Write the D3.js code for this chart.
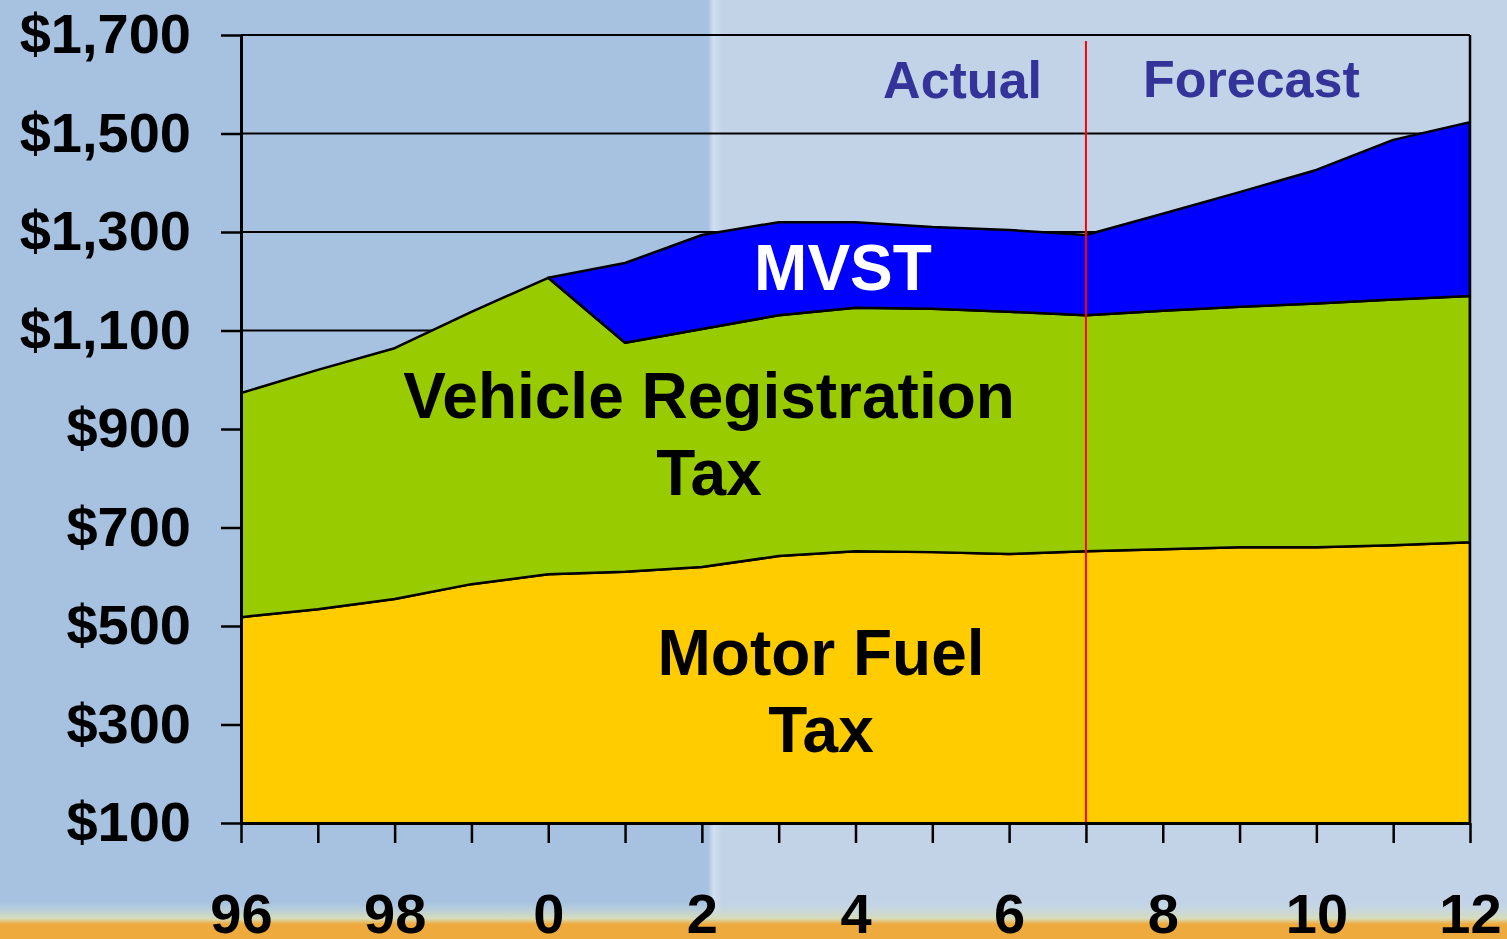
<!DOCTYPE html>
<html>
<head>
<meta charset="utf-8">
<script src="https://cdn.jsdelivr.net/npm/d3@7"></script>
<style>
    html, body { margin: 0; padding: 0; overflow: hidden; }
    svg { display: block; font-family: "Liberation Sans", Arial, sans-serif; font-weight: bold; }
</style>
</head>
<body>
<div id="chart"></div>
<script>
// Fiscal years (2-digit labels on the axis)
var years = [1996, 1997, 1998, 1999, 2000, 2001, 2002, 2003, 2004, 2005, 2006, 2007, 2008, 2009, 2010, 2011, 2012];

// Revenue by source, $ millions (stacked from the bottom)
var motorFuel = [518, 534, 555, 585, 605, 610, 620, 642, 652, 650, 646, 652, 656, 660, 660, 664, 670];
var vehicleReg = [455, 486, 509, 553, 602, 465, 483, 489, 494, 494, 492, 479, 484, 488, 495, 499, 500];
var mvst = [null, null, null, null, 0, 162, 191, 189, 174, 166, 166, 163, 197, 233, 271, 324, 353];

var yTicks = [100, 300, 500, 700, 900, 1100, 1300, 1500, 1700];
var xLabelYears = [1996, 1998, 2000, 2002, 2004, 2006, 2008, 2010, 2012];
var forecastStart = 2007;

/**** SETUP ****/
var width = 1507,
    height = 939;
var plot = {left: 241, right: 1470, top: 35, bottom: 823};

var x = d3.scaleLinear().domain([1996, 2012]).range([plot.left, plot.right]);
var y = d3.scaleLinear().domain([100, 1700]).range([plot.bottom, plot.top]);

var rows = years.map(function(yr, i) {
    return {year: yr, fuel: motorFuel[i], vrt: vehicleReg[i], mvst: mvst[i] == null ? 0 : mvst[i], i: i};
});
var series = d3.stack().keys(['fuel', 'vrt', 'mvst'])(rows);
var fills = {fuel: '#ffcc00', vrt: '#99cc00', mvst: '#0000ff'};

var svg = d3.select('#chart').append('svg')
    .attr('width', width)
    .attr('height', height);

// Background panels
var defs = svg.append('defs');
var seam = defs.append('linearGradient').attr('id', 'seam');
seam.append('stop').attr('offset', '0%').attr('stop-color', '#a6c2e0');
seam.append('stop').attr('offset', '40%').attr('stop-color', '#d2dff0');
seam.append('stop').attr('offset', '100%').attr('stop-color', '#c2d3e8');
var strip = defs.append('linearGradient').attr('id', 'strip').attr('x1', 0).attr('x2', 0).attr('y1', 0).attr('y2', 1);
strip.append('stop').attr('offset', '0%').attr('stop-color', '#c8dce0').attr('stop-opacity', 0);
strip.append('stop').attr('offset', '45%').attr('stop-color', '#d8dcb8');
strip.append('stop').attr('offset', '60%').attr('stop-color', '#eeaa3c');
strip.append('stop').attr('offset', '100%').attr('stop-color', '#eeaa3c');

svg.append('rect').attr('x', 0).attr('y', 0).attr('width', 712).attr('height', height).attr('fill', '#a6c2e0');
svg.append('rect').attr('x', 712).attr('y', 0).attr('width', width - 712).attr('height', height).attr('fill', '#c2d3e8');
svg.append('rect').attr('x', 708).attr('y', 0).attr('width', 14).attr('height', height).attr('fill', 'url(#seam)');
svg.append('rect').attr('x', 0).attr('y', 902).attr('width', width).attr('height', height - 902).attr('fill', 'url(#strip)');

// Clip to the plot box
defs.append('clipPath').attr('id', 'plotclip')
    .append('rect')
    .attr('x', plot.left).attr('y', plot.top)
    .attr('width', plot.right - plot.left).attr('height', plot.bottom - plot.top);

// Gridlines
svg.append('g')
    .selectAll('line')
    .data(yTicks.filter(function(d) { return d > 100; }))
    .enter().append('line')
    .attr('x1', plot.left).attr('x2', plot.right)
    .attr('y1', function(d) { return y(d); })
    .attr('y2', function(d) { return y(d); })
    .attr('stroke', '#000')
    .attr('stroke-width', 2);

// Stacked areas
var area = d3.area()
    .defined(function(d, i) { return d.key !== 'mvst' || mvst[i] != null; })
    .x(function(d) { return x(d.data.year); })
    .y0(function(d) { return y(d[0]); })
    .y1(function(d) { return y(d[1]); });

svg.append('g')
    .attr('clip-path', 'url(#plotclip)')
    .selectAll('path')
    .data(series)
    .enter().append('path')
    .attr('fill', function(s) { return fills[s.key]; })
    .attr('stroke', '#000')
    .attr('stroke-width', 2.5)
    .attr('stroke-linejoin', 'round')
    .attr('d', function(s) {
        var pts = s.map(function(d) { d.key = s.key; return d; });
        return area(pts);
    });

// Actual / forecast divider
svg.append('line')
    .attr('x1', x(forecastStart)).attr('x2', x(forecastStart))
    .attr('y1', plot.top + 6).attr('y2', plot.bottom)
    .attr('stroke', '#ff0000')
    .attr('stroke-width', 2);

// Right frame
svg.append('line')
    .attr('x1', plot.right).attr('x2', plot.right)
    .attr('y1', plot.top).attr('y2', plot.bottom)
    .attr('stroke', '#000')
    .attr('stroke-width', 2.5);

// Y-Axis
var yAxis = d3.axisLeft(y)
    .tickValues(yTicks)
    .tickSize(20)
    .tickSizeOuter(0)
    .tickPadding(30)
    .tickFormat(function(d) { return '$' + d3.format(',')(d); });
var gy = svg.append('g')
    .attr('transform', 'translate(' + plot.left + ',0)')
    .call(yAxis);
gy.selectAll('text').attr('font-size', 56).attr('fill', '#000');

// X-Axis
var xAxis = d3.axisBottom(x)
    .tickValues(years)
    .tickSize(20)
    .tickSizeOuter(0)
    .tickPadding(50)
    .tickFormat(function(d) { return xLabelYears.indexOf(d) >= 0 ? String(d % 100) : ''; });
var gx = svg.append('g')
    .attr('transform', 'translate(0,' + plot.bottom + ')')
    .call(xAxis);
gx.selectAll('text').attr('font-size', 56).attr('fill', '#000');

svg.selectAll('.domain').attr('stroke', '#000').attr('stroke-width', 3);
svg.selectAll('.tick line').attr('stroke', '#000').attr('stroke-width', 2.5);
svg.selectAll('.tick text').attr('font-family', '"Liberation Sans", Arial, sans-serif').attr('font-weight', 'bold');

// Labels
function label(txt, px, py, size, color, anchor) {
    svg.append('text')
        .attr('x', px).attr('y', py)
        .attr('font-size', size)
        .attr('fill', color)
        .attr('text-anchor', anchor || 'middle')
        .text(txt);
}
label('Actual', 1042, 98, 52, '#333399', 'end');
label('Forecast', 1143, 97, 52, '#333399', 'start');
label('MVST', 843, 290, 64, '#ffffff');
label('Vehicle Registration', 709, 418, 64, '#000');
label('Tax', 709, 495, 64, '#000');
label('Motor Fuel', 821, 675, 64, '#000');
label('Tax', 821, 752, 64, '#000');
</script>
</body>
</html>
